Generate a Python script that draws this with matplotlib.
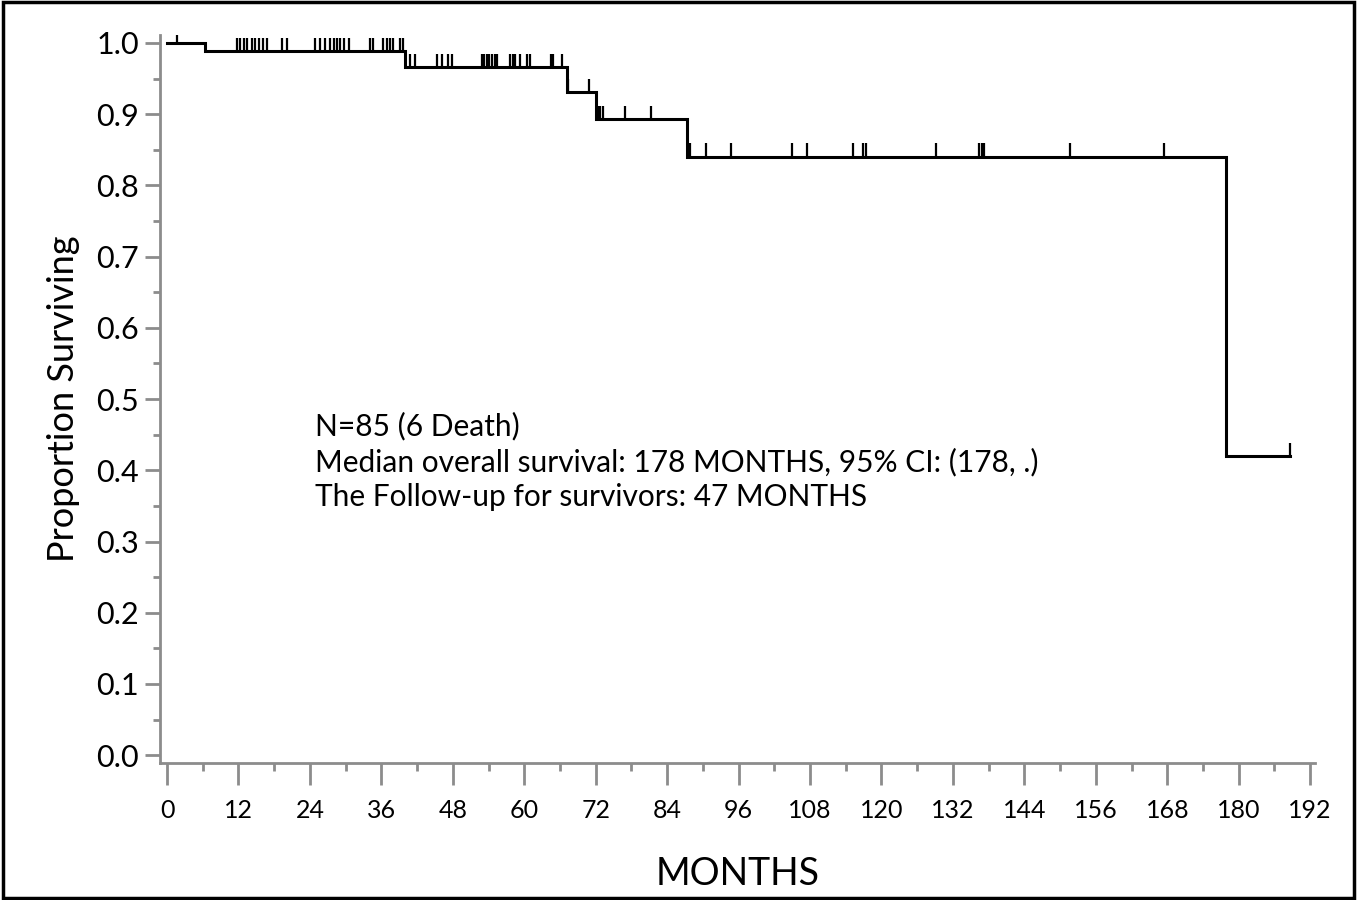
import matplotlib
matplotlib.use('Agg')
import matplotlib.pyplot as plt
import numpy as np
from matplotlib.patches import Rectangle

# Kaplan-Meier steps (event months, survival after event)
event_months = [0, 6.3, 40.0, 67.1, 72.1, 87.3, 177.9]
survival = [1.0, 0.988, 0.966, 0.931, 0.893, 0.840, 0.420]
end_month = 188.6

# censored follow-up times (months)
censor_months = [
    1.7,
    11.8, 12.3, 12.9, 13.5, 14.2, 14.8, 15.4, 16.1, 16.8,
    19.3, 20.2,
    24.9, 25.7, 26.6, 27.4, 28.0, 28.6, 29.1, 29.8, 30.6,
    34.1, 34.6, 36.3, 37.0, 37.5, 38.0, 39.1, 39.6,
    40.8, 41.7, 45.4, 46.2, 47.2, 47.9,
    52.9, 53.3, 53.8, 54.1, 54.6, 55.1, 55.4, 57.6, 58.1, 58.5, 59.3,
    60.5, 61.0, 64.5, 64.9, 66.4,
    67.4, 70.9,
    72.4, 72.8, 73.2, 76.9, 81.3,
    87.9, 90.5, 94.7, 105.0, 107.5, 115.2, 116.9, 117.4, 129.2,
    136.4, 136.9, 137.2, 151.7, 167.5,
    188.6,
]

x_ticks = np.arange(0, 193, 12)
y_ticks = np.round(np.arange(0, 1.01, 0.1), 1)

annot = [
    'N=85 (6 Death)',
    'Median overall survival: 178 MONTHS, 95% CI: (178, .)',
    'The Follow-up for survivors: 47 MONTHS',
]

plt.rcParams['font.family'] = ['Lato', 'DejaVu Sans']

fig = plt.figure(figsize=(13.57, 9), dpi=100)
ax = fig.add_axes([0.1179, 0.152, 0.969 - 0.1179, 0.961 - 0.152])

xs = event_months + [end_month]
ys = survival + [survival[-1]]
ax.step(xs, ys, where='post', color='black', lw=2.2, solid_joinstyle='miter')

# censor marks: short vertical ticks sitting on the curve
idx = np.searchsorted(event_months, censor_months, side='right') - 1
cens_y = np.array(survival)[idx]
ax.vlines(censor_months, cens_y, cens_y + 0.019, color='black', lw=1.6)

ax.set_xlim(-1.18, 192.8)
ax.set_ylim(-0.0112, 1.011)
ax.set_xticks(x_ticks)
ax.set_xticks(np.arange(6, 192, 12), minor=True)
ax.set_yticks(y_ticks)
ax.set_yticks(np.arange(0.05, 1.0, 0.1), minor=True)
ax.set_yticklabels([f'{v:.1f}' for v in y_ticks])

for side in ['top', 'right']:
    ax.spines[side].set_visible(False)
for side in ['left', 'bottom']:
    ax.spines[side].set_color('#8c8c8c')
    ax.spines[side].set_linewidth(2)

ax.tick_params(axis='x', which='major', length=16, width=2, color='#8c8c8c',
               labelsize=18, pad=10)
ax.tick_params(axis='x', which='minor', length=6, width=2, color='#8c8c8c')
ax.tick_params(axis='y', which='major', length=11, width=2, color='#8c8c8c',
               labelsize=22, pad=4)
ax.tick_params(axis='y', which='minor', length=5, width=2, color='#8c8c8c')

ax.set_xlabel('MONTHS', fontsize=27, labelpad=24)
ax.set_ylabel('Proportion Surviving', fontsize=26, labelpad=12)

for i, line in enumerate(annot):
    ax.text(24.9, 0.462 - i * 0.05, line, fontsize=21.5, va='center', ha='left')

fig.patches.append(Rectangle((0.002, 0.002), 0.996, 0.996, transform=fig.transFigure,
                             fill=False, edgecolor='black', lw=2.5))

fig.savefig('out.png', dpi=100)
